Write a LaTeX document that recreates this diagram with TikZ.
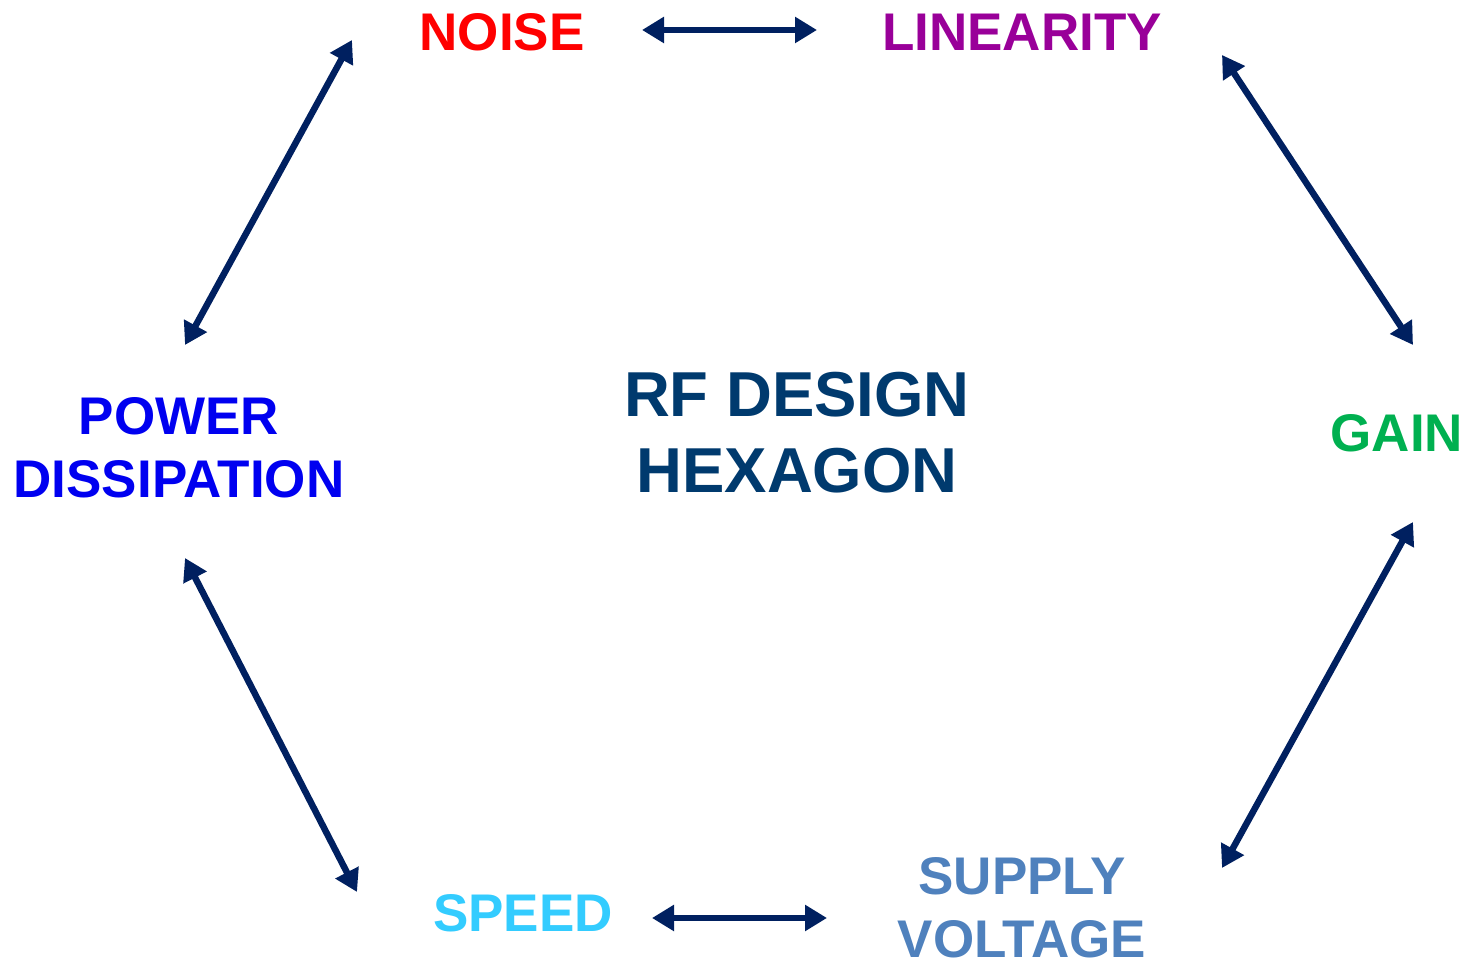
\documentclass[tikz,border=0pt]{standalone}
\usepackage{fontspec}
\setmainfont{Liberation Sans}
\usetikzlibrary{arrows.meta}
\definecolor{arrownavy}{RGB}{0,32,96}
\definecolor{noisered}{RGB}{255,0,0}
\definecolor{linpurple}{RGB}{153,0,153}
\definecolor{powblue}{RGB}{0,0,240}
\definecolor{hexnavy}{RGB}{0,58,110}
\definecolor{gaingreen}{RGB}{0,176,80}
\definecolor{speedcyan}{RGB}{51,204,255}
\definecolor{supplyblue}{RGB}{79,129,189}
\begin{document}
\begin{tikzpicture}[x=1pt,y=1pt,
  label/.style={font=\bfseries\fontsize{53}{63}\selectfont, align=center, inner sep=0pt, anchor=center},
  title/.style={font=\bfseries\fontsize{63.5}{76}\selectfont, align=center, inner sep=0pt, anchor=center, text=hexnavy},
  link/.style={draw=arrownavy, line width=6.5pt, {Triangle[length=22pt,width=25pt]}-{Triangle[length=22pt,width=25pt]}}
]
\useasboundingbox (0,0) rectangle (1468,960);

% labels around the hexagon
\node[label, text=noisered]   (noise)  at (502,928) {NOISE};
\node[label, text=linpurple]  (lin)    at (1022,928) {LINEARITY};
\node[label, text=powblue]    (power)  at (179,512) {POWER\\DISSIPATION};
\node[label, text=gaingreen]  (gain)   at (1397,527) {GAIN};
\node[label, text=speedcyan]  (speed)  at (523,47) {SPEED};
\node[label, text=supplyblue] (supply) at (1022,52) {SUPPLY\\VOLTAGE};
\node[title] (hex) at (797,527) {RF DESIGN\\HEXAGON};

% arrow end points
\coordinate (noiseR) at (642,930);
\coordinate (linL)   at (817,930);
\coordinate (noiseL) at (352,920);
\coordinate (powT)   at (185,615);
\coordinate (linR)   at (1222,905);
\coordinate (gainT)  at (1413,615);
\coordinate (gainB)  at (1413,438);
\coordinate (supR)   at (1222,92);
\coordinate (powB)   at (185,402);
\coordinate (speedL) at (357,68);
\coordinate (speedR) at (652,42);
\coordinate (supL)   at (827,42);

% trade-off arrows
\draw[link] (noiseR) -- (linL);
\draw[link] (noiseL) -- (powT);
\draw[link] (linR) -- (gainT);
\draw[link] (gainB) -- (supR);
\draw[link] (powB) -- (speedL);
\draw[link] (speedR) -- (supL);
\end{tikzpicture}
\end{document}
